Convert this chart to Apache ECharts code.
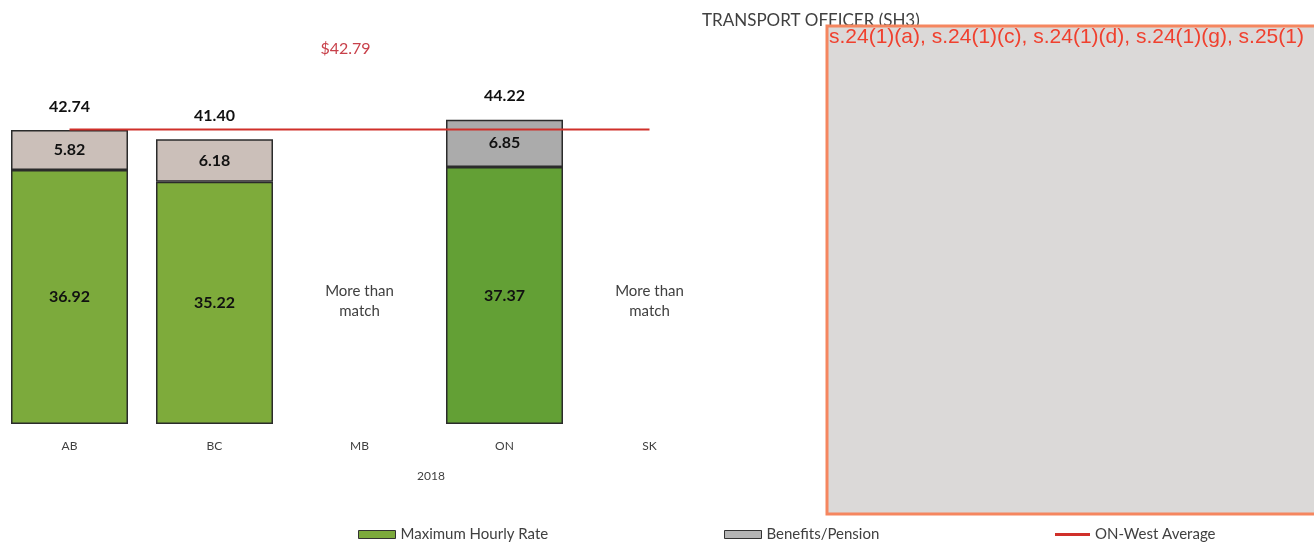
<!DOCTYPE html>
<html>
<head>
<meta charset="utf-8">
<script src="https://cdn.jsdelivr.net/npm/echarts@6/dist/echarts.min.js"></script>
<style>
  html, body { margin: 0; padding: 0; background: #fff; }
  #main { width: 1314px; height: 545px; }
</style>
</head>
<body>
<div id="main"></div>
<script>
// data
const provinces = ['AB', 'BC', 'MB', 'ON', 'SK'];
const hourlyRate = [36.92, 35.22, '-', 37.37, '-'];
const benefits = [5.82, 6.18, '-', 6.85, '-'];
const westAverage = [42.79, 42.79, 42.79, 42.79, 42.79];
const notes = ['', '', 'More than\nmatch', '', 'More than\nmatch'];
const yearLabel = '2018';

// per-bar shades (Excel chart had slightly different fills)
const rateColors = ['#7caa3c', '#7eab3b', '#7caa3c', '#63a035', '#7caa3c'];
const benefitColors = ['#cbbfb9', '#cbbfb9', '#cbbfb9', '#ababab', '#cbbfb9'];

const totals = provinces.map((p, i) =>
  hourlyRate[i] === '-' ? '-' : +(hourlyRate[i] + benefits[i]).toFixed(2));

const font = 'Lato, "Open Sans", sans-serif';
const hidden = { color: 'rgba(0,0,0,0)', opacity: 1 };

const legendBase = {
  itemWidth: 37, itemHeight: 8, itemGap: 3, icon: 'rect', padding: 0,
  itemStyle: { borderColor: '#333', borderWidth: 1 },
  textStyle: { fontSize: 15, color: '#404040', fontFamily: font }
};

const chart = echarts.init(document.getElementById('main'));
chart.setOption({
  animation: false,
  textStyle: { fontFamily: font },
  title: {
    text: 'TRANSPORT OFFICER (SH3)',
    left: 697, top: 7,
    textStyle: { fontSize: 17, fontWeight: 'normal', color: '#404040', fontFamily: font }
  },
  grid: { left: -3, right: 592, top: 80, bottom: 121, outerBoundsMode: 'none', containLabel: false },
  xAxis: {
    type: 'category',
    data: provinces,
    axisLine: { show: false },
    axisTick: { show: false },
    axisLabel: { color: '#404040', fontSize: 12, margin: 16, fontFamily: font }
  },
  yAxis: { type: 'value', min: 0, max: 50, show: false, splitLine: { show: false } },
  legend: [
    Object.assign({ data: ['Maximum Hourly Rate'], left: 358, top: 527 }, legendBase),
    Object.assign({ data: ['Benefits/Pension'], left: 724, top: 527 }, legendBase),
    Object.assign({}, legendBase, { data: ['ON-West Average'], left: 1055, top: 527,
      itemWidth: 35, itemHeight: 3, itemStyle: { borderWidth: 0 } })
  ],
  series: [
    {
      name: 'Maximum Hourly Rate', type: 'bar', stack: 'pay', barWidth: 117,
      data: hourlyRate.map((v, i) => ({ value: v, itemStyle: { color: rateColors[i] } })),
      itemStyle: { color: '#7caa3c', borderColor: '#2b2b2b', borderWidth: 1.5 },
      label: { show: true, position: 'inside', color: '#111', fontWeight: 'bold', fontSize: 16,
               formatter: p => p.value.toFixed(2) }
    },
    {
      name: 'Benefits/Pension', type: 'bar', stack: 'pay', barWidth: 117,
      data: benefits.map((v, i) => ({ value: v, itemStyle: { color: benefitColors[i] } })),
      itemStyle: { color: '#b5b5b5', borderColor: '#2b2b2b', borderWidth: 1.5 },
      label: { show: true, position: 'inside', color: '#111', fontWeight: 'bold', fontSize: 16,
               formatter: p => p.value.toFixed(2) }
    },
    {
      name: 'ON-West Average', type: 'line', data: westAverage, z: 5,
      symbol: 'none', lineStyle: { color: '#d0302a', width: 2 }, itemStyle: { color: '#d0302a' }
    },
    {
      name: 'avgLabel', type: 'scatter', symbolSize: 1, z: 6,
      data: westAverage.map((v, i) => i === 2 ? v : '-'),
      itemStyle: hidden,
      label: { show: true, position: 'top', distance: 72, offset: [-14, 0],
               color: '#c8404a', fontSize: 16, formatter: p => '$' + p.value.toFixed(2) }
    },
    {
      name: 'totals', type: 'scatter', data: totals, symbolSize: 1, z: 6,
      itemStyle: hidden,
      label: { show: true, position: 'top', distance: 15, color: '#111', fontWeight: 'bold', fontSize: 16,
               formatter: p => p.value.toFixed(2) }
    },
    {
      name: 'notes', type: 'scatter', symbolSize: 1, z: 6,
      data: notes.map(n => n ? { value: 17.9, name: n } : '-'),
      itemStyle: hidden,
      label: { show: true, position: 'inside', color: '#404040', fontSize: 15, lineHeight: 20,
               formatter: p => p.name }
    }
  ],
  graphic: [
    { type: 'text', left: 417, top: 470, style: { text: yearLabel, font: '12px ' + font, fill: '#404040' } },
    { type: 'rect', shape: { x: 827, y: 26, width: 500, height: 488 }, z: 10,
      style: { fill: '#dbd9d8', stroke: '#f5865f', lineWidth: 3 } },
    { type: 'text', x: 829, y: 27, z: 11,
      style: { text: 's.24(1)(a), s.24(1)(c), s.24(1)(d), s.24(1)(g), s.25(1)',
               font: '21px "Liberation Sans", Arial, sans-serif', fill: '#f0402e' } }
  ]
});
</script>
</body>
</html>
